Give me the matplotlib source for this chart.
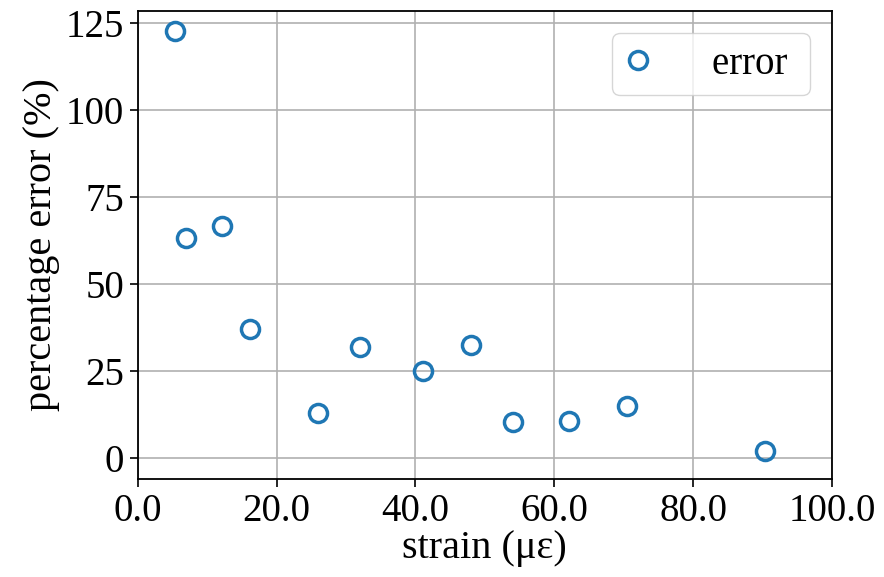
import matplotlib.pyplot as plt
from matplotlib.ticker import FormatStrFormatter

strain = [5.3, 7.0, 12.1, 16.2, 26.0, 32.0, 41.1, 48.0, 54.0, 62.1, 70.5, 90.4]
error = [122.7, 63.2, 66.7, 37.0, 13.0, 32.0, 25.1, 32.6, 10.4, 10.7, 15.0, 2.0]

plt.rcParams['font.family'] = ['Liberation Serif', 'DejaVu Serif']
plt.rcParams['font.size'] = 28

fig = plt.figure(figsize=(8.84, 5.77), dpi=100)
ax = fig.add_axes([0.156, 0.170, 0.785, 0.811])

ax.plot(strain, error, 'o', linestyle='none', markersize=13, markerfacecolor='none',
        markeredgecolor='#1f77b4', markeredgewidth=2.5, label='error ', zorder=3)

ax.set_xlim(0, 100)
ax.set_ylim(-6, 128.5)
ax.set_xticks([0, 20, 40, 60, 80, 100])
ax.set_yticks([0, 25, 50, 75, 100, 125])
ax.xaxis.set_major_formatter(FormatStrFormatter('%.1f'))
ax.grid(True, color='#b0b0b0', linewidth=1.2)
ax.set_axisbelow(True)
ax.tick_params(length=6, width=1.2, pad=4)
for s in ax.spines.values():
    s.set_linewidth(1.3)

ax.set_xlabel('strain (με)', fontsize=29, labelpad=0)
ax.set_ylabel('percentage error (%)', fontsize=29, labelpad=4)

ax.legend(loc='upper right', fontsize=28, handlelength=0.7, handletextpad=1.55,
          borderpad=0.32, borderaxespad=0.57, framealpha=0.8)

fig.savefig('out.png', dpi=100)
